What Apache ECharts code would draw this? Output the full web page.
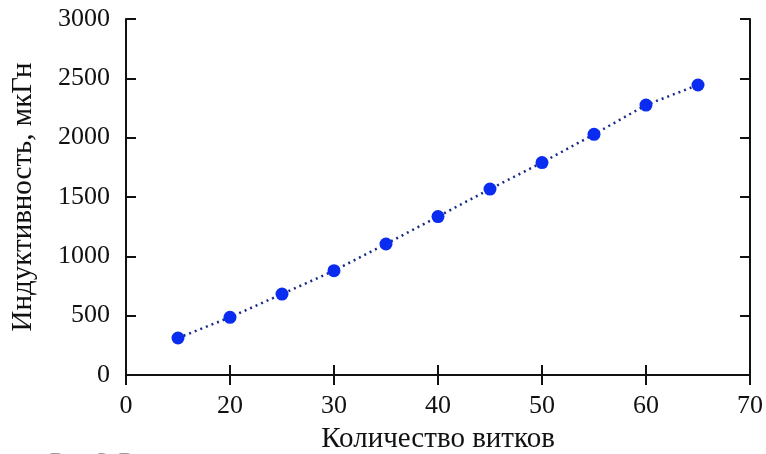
<!DOCTYPE html>
<html>
<head>
<meta charset="utf-8">
<script src="https://cdn.jsdelivr.net/npm/echarts@6/dist/echarts.min.js"></script>
<style>
html,body{margin:0;padding:0;background:#fff;}
#chart{width:766px;height:454px;}
</style>
</head>
<body>
<div id="chart"></div>
<script>
// Data
var turns = [15, 20, 25, 30, 35, 40, 45, 50, 55, 60, 65];
var inductance = [312, 486, 682, 879, 1104, 1335, 1567, 1790, 2028, 2275, 2444];
var xTickValues = [10, 20, 30, 40, 50, 60, 70];
var xTickLabels = ['0', '20', '30', '40', '50', '60', '70'];
var yTickLabels = ['0', '500', '1000', '1500', '2000', '2500', '3000'];
var xTitle = 'Количество витков';
var yTitle = 'Индуктивность, мкГн';
var captionText = 'Рис. 3. Р';

var FONT = '"Liberation Serif", "Times New Roman", serif';
var chart = echarts.init(document.getElementById('chart'), null, {renderer: 'canvas'});

var points = turns.map(function (t, i) { return [t, inductance[i]]; });

function xLabel(v) {
  var i = xTickValues.indexOf(v);
  return i >= 0 ? xTickLabels[i] : '';
}
function yLabel(v) {
  var i = Math.round(v / 500);
  return yTickLabels[i] !== undefined ? yTickLabels[i] : '';
}

var axisLine = {show: true, lineStyle: {color: '#111', width: 2}};
var axisTick = {show: true, inside: true, length: 10, lineStyle: {color: '#111', width: 2}};

var option = {
  backgroundColor: '#fff',
  animation: false,
  grid: {left: 126, right: 16, top: 19, bottom: 79, containLabel: false, outerBoundsMode: 'none'},
  xAxis: [{
    type: 'value', min: 10, max: 70, interval: 10, position: 'bottom',
    axisLine: axisLine, axisTick: axisTick, splitLine: {show: false},
    axisLabel: {formatter: xLabel, fontFamily: FONT, fontSize: 26, color: '#111', margin: 18},
    name: xTitle, nameLocation: 'middle', nameGap: 50,
    nameTextStyle: {fontFamily: FONT, fontSize: 29, color: '#111'}
  }, {
    type: 'value', min: 10, max: 70, interval: 10, position: 'top',
    axisLine: axisLine, axisTick: axisTick, splitLine: {show: false},
    axisLabel: {show: false}
  }],
  yAxis: [{
    type: 'value', min: 0, max: 3000, interval: 500, position: 'left',
    axisLine: axisLine, axisTick: axisTick, splitLine: {show: false},
    axisLabel: {formatter: yLabel, fontFamily: FONT, fontSize: 26, color: '#111', margin: 16},
    name: yTitle, nameLocation: 'middle', nameGap: 88, nameRotate: 90,
    nameTextStyle: {fontFamily: FONT, fontSize: 29, color: '#111'}
  }, {
    type: 'value', min: 0, max: 3000, interval: 500, position: 'right',
    axisLine: axisLine, axisTick: axisTick, splitLine: {show: false},
    axisLabel: {show: false}
  }],
  series: [{
    type: 'line',
    data: points,
    xAxisIndex: 0, yAxisIndex: 0,
    symbol: 'circle', symbolSize: 13,
    itemStyle: {color: '#0a2cf0'},
    lineStyle: {type: [2, 4], color: '#1a2a8a', width: 2.5},
    z: 3
  }],
  graphic: [{
    type: 'text', left: 50, top: 450,
    style: {text: captionText, font: 'bold 22px ' + FONT, fill: '#999'}
  }]
};
chart.setOption(option);
</script>
</body>
</html>
